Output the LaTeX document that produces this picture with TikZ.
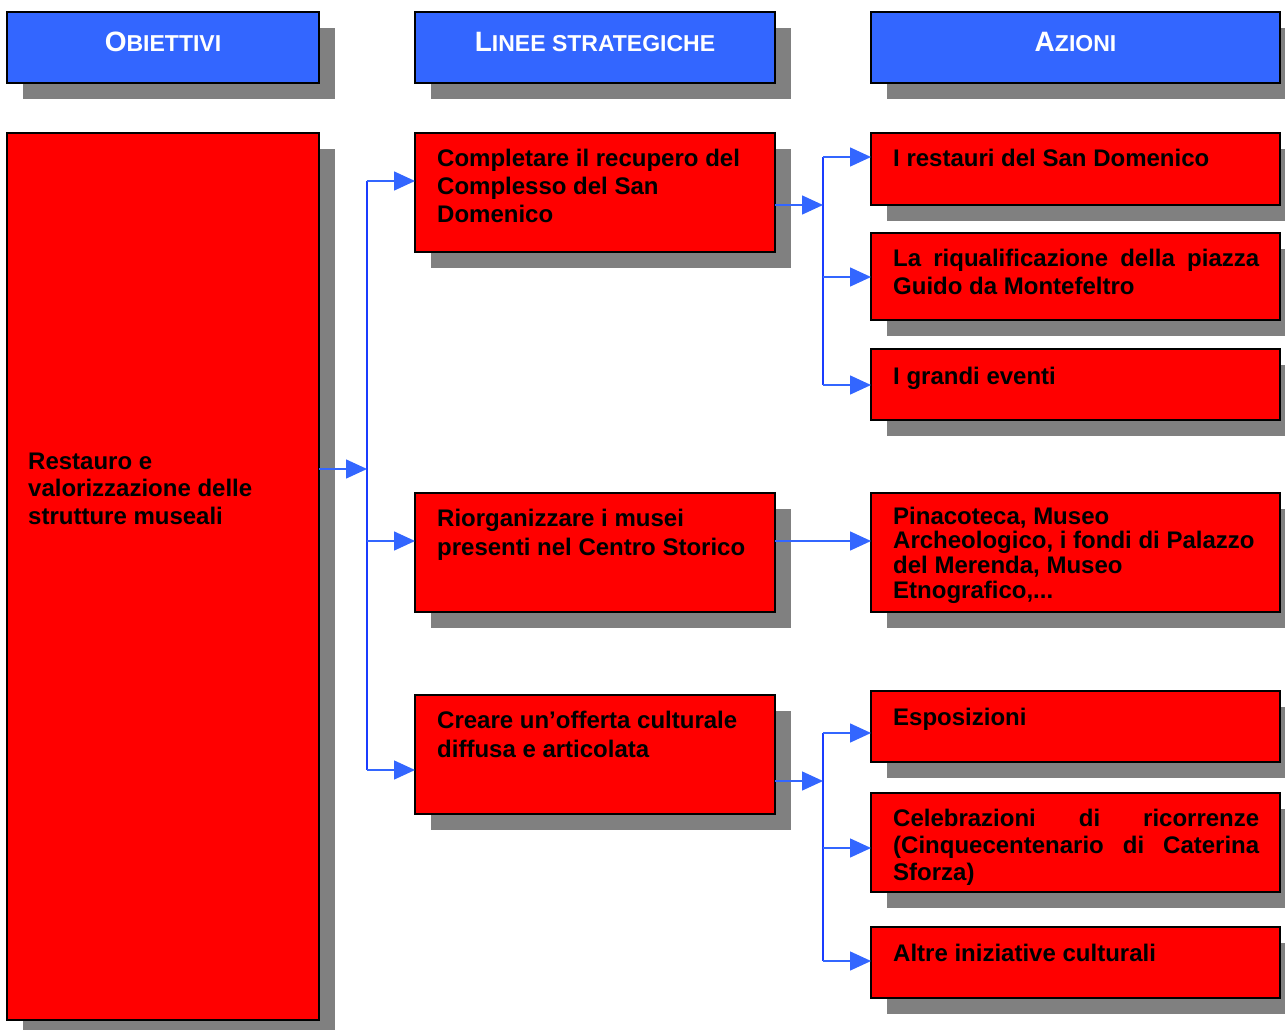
\documentclass[tikz,border=0pt]{standalone}
\usepackage{fontspec}
\setmainfont{Liberation Sans}
\usetikzlibrary{arrows.meta}
\definecolor{hdr}{HTML}{3366FF}
\definecolor{boxred}{HTML}{FF0000}
\definecolor{shadowc}{HTML}{808080}
\definecolor{hline}{HTML}{3366FF}
\definecolor{vline}{HTML}{1A3CFF}
\tikzset{
  boxst/.style={draw=black, line width=1.2pt, inner sep=0pt, outer sep=0pt, anchor=north west},
  txt/.style={font=\bfseries\fontsize{24}{28}\selectfont, anchor=north west, inner sep=0pt, align=left, text=black},
  htxt/.style={font=\bfseries, text=white, inner sep=0pt, anchor=center},
  harr/.style={draw=hline, line width=1.5pt, -{Triangle[length=21pt,width=19pt]}, color=hline},
  vln/.style={draw=vline, line width=1.5pt},
}
\newcommand\dbox[6]{%
  \fill[shadowc] ({#2+16},{-(#3)-16}) rectangle ({#4+16},{-(#5)-16});
  \node[boxst, fill=#6, minimum width={#4-#2}, minimum height={#5-#3}] (#1) at (#2,-#3) {};
}
\newcommand\bigsc[2]{{\fontsize{28}{28}\selectfont #1}{\fontsize{23}{23}\selectfont #2}}
\begin{document}
\begin{tikzpicture}[x=1pt,y=1pt]
\useasboundingbox (0,0) rectangle (1285,-1030);
\clip (0,0) rectangle (1285,-1030);
% headers
\dbox{h1}{7}{12}{319}{83}{hdr}
\dbox{h2}{415}{12}{775}{83}{hdr}
\dbox{h3}{871}{12}{1280}{83}{hdr}
\node[htxt] (h1t) at (163,-42) {\bigsc{O}{BIETTIVI}};
\node[htxt] (h2t) at (595,-42) {\bigsc{L}{INEE STRATEGICHE}};
\node[htxt] (h3t) at (1075.5,-42) {\bigsc{A}{ZIONI}};
% boxes
\dbox{L}{7}{133}{319}{1020}{boxred}
\dbox{M1}{415}{133}{775}{252}{boxred}
\dbox{M2}{415}{493}{775}{612}{boxred}
\dbox{M3}{415}{695}{775}{814}{boxred}
\dbox{R1}{871}{133}{1280}{205}{boxred}
\dbox{R2}{871}{233}{1280}{320}{boxred}
\dbox{R3}{871}{349}{1280}{420}{boxred}
\dbox{R4}{871}{493}{1280}{612}{boxred}
\dbox{R5}{871}{691}{1280}{762}{boxred}
\dbox{R6}{871}{793}{1280}{892}{boxred}
\dbox{R7}{871}{927}{1280}{998}{boxred}
% texts
\node[txt, font=\bfseries\fontsize{24}{27.5}\selectfont] (Lt) at (28,-452.5) {Restauro e\\valorizzazione delle\\strutture museali};
\node[txt] (M1t) at (437,-148.5) {Completare il recupero del\\Complesso del San\\Domenico};
\node[txt, font=\bfseries\fontsize{24}{29}\selectfont] (M2t) at (437,-508.5) {Riorganizzare i musei\\presenti nel Centro Storico};
\node[txt, font=\bfseries\fontsize{24}{29}\selectfont] (M3t) at (437,-710.5) {Creare un’offerta culturale\\diffusa e articolata};
\node[txt] (R1t) at (893,-148.5) {I restauri del San Domenico};
\node[txt] (R2t) at (893,-248.5) {\hbox to 366pt{La\hfill riqualificazione\hfill della\hfill piazza}\\Guido da Montefeltro};
\node[txt] (R3t) at (893,-366.5) {I grandi eventi};
\node[txt, font=\bfseries\fontsize{24}{24.7}\selectfont] (R4t) at (893,-506.5) {Pinacoteca, Museo\\Archeologico, i fondi di Palazzo\\del Merenda, Museo\\Etnografico,...};
\node[txt] (R5t) at (893,-707.5) {Esposizioni};
\node[txt, font=\bfseries\fontsize{24}{27}\selectfont] (R6t) at (893,-808.5) {\hbox to 366pt{Celebrazioni\hfill di\hfill ricorrenze}\\\hbox to 366pt{(Cinquecentenario\hfill di\hfill Caterina}\\Sforza)};
\node[txt] (R7t) at (893,-943.5) {Altre iniziative culturali};
% bus 1
\coordinate (b1m) at (367,-469);
\coordinate (b1t) at (367,-181);
\coordinate (b1c) at (367,-541);
\coordinate (b1b) at (367,-770);
\draw[vln] (b1t) -- (b1b);
\draw[harr] (b1m -| L.east) -- (b1m);
\draw[harr] (b1t) -- (b1t -| M1.west);
\draw[harr] (b1c) -- (b1c -| M2.west);
\draw[harr] (b1b) -- (b1b -| M3.west);
% bus 2
\coordinate (b2m) at (823,-205);
\coordinate (b2t) at (823,-157);
\coordinate (b2c) at (823,-277);
\coordinate (b2b) at (823,-385);
\draw[vln] (b2t) -- (b2b);
\draw[harr] (b2m -| M1.east) -- (b2m);
\draw[harr] (b2t) -- (b2t -| R1.west);
\draw[harr] (b2c) -- (b2c -| R2.west);
\draw[harr] (b2b) -- (b2b -| R3.west);
% direct
\coordinate (a4) at (823,-541);
\draw[harr] (a4 -| M2.east) -- (a4 -| R4.west);
% bus 3
\coordinate (b3m) at (823,-781);
\coordinate (b3t) at (823,-733);
\coordinate (b3c) at (823,-848);
\coordinate (b3b) at (823,-961);
\draw[vln] (b3t) -- (b3b);
\draw[harr] (b3m -| M3.east) -- (b3m);
\draw[harr] (b3t) -- (b3t -| R5.west);
\draw[harr] (b3c) -- (b3c -| R6.west);
\draw[harr] (b3b) -- (b3b -| R7.west);
\end{tikzpicture}
\end{document}
